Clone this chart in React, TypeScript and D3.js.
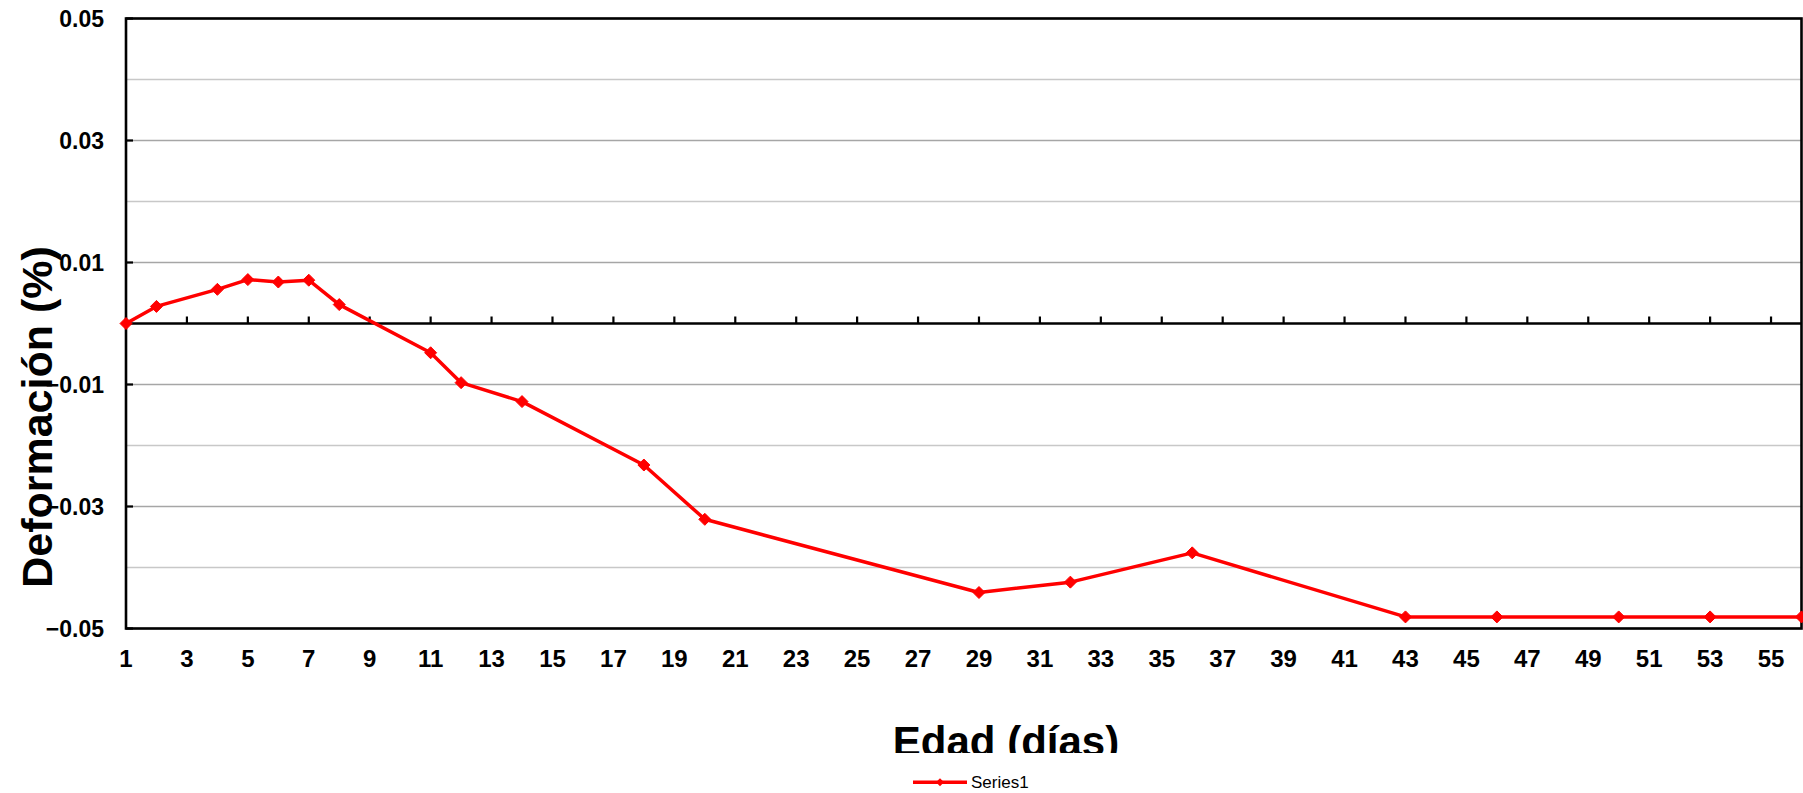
import React from "react";
import * as d3 from "d3";

const days = [1, 2, 4, 5, 6, 7, 8, 11, 12, 14, 18, 20, 29, 32, 36, 43, 46, 50, 53, 56];
const deformation = [
  0, 0.0028, 0.0056, 0.0072, 0.0068, 0.0071, 0.0031, -0.0048, -0.0097, -0.0128,
  -0.0232, -0.0321, -0.0441, -0.0424, -0.0376, -0.0481, -0.0481, -0.0481, -0.0481, -0.0481,
];
const xTickDays = d3.range(1, 56, 2);
const yMajorTicks = [-0.05, -0.03, -0.01, 0.01, 0.03, 0.05];
const yMinorTicks = [-0.04, -0.02, 0.02, 0.04];
const seriesName = "Series1";
const xTitle = "Edad (días)";
const yTitle = "Deformación (%)";

const W = 1803;
const H = 793;
const L = 126;
const R = 1801.5;
const T = 18.5;
const B = 628.5;
const FONT = "'Liberation Sans', Arial, Helvetica, sans-serif";
const RED = "#ff0000";

export default function App() {
  const x = d3.scaleLinear().domain([1, 56]).range([L, R]);
  const y = d3.scaleLinear().domain([-0.05, 0.05]).range([B, T]);
  const fmt = d3.format(".2f");
  const pts = days.map((d, i) => [x(d), y(deformation[i])] as [number, number]);
  const line = d3.line()(pts) || "";
  const diamond = (cx: number, cy: number, r: number) =>
    `M${cx},${cy - r}L${cx + r},${cy}L${cx},${cy + r}L${cx - r},${cy}Z`;

  return (
    <svg
      width={W}
      height={H}
      style={{ position: "absolute", left: 0, top: 0, display: "block", background: "#fff" }}
      fontFamily={FONT}
    >
      <defs>
        <clipPath id="titleClip">
          <rect x={0} y={0} width={W} height={753} />
        </clipPath>
      </defs>
      <rect x={0} y={0} width={W} height={H} fill="#fff" />
      {yMinorTicks.map((v) => (
        <line key={"mn" + v} x1={L} x2={R} y1={y(v)} y2={y(v)} stroke="#c8c8c8" strokeWidth={1.5} />
      ))}
      {yMajorTicks.map((v) => (
        <line key={"mj" + v} x1={L} x2={R} y1={y(v)} y2={y(v)} stroke="#a6a6a6" strokeWidth={1.5} />
      ))}
      <rect x={L} y={T} width={R - L} height={B - T} fill="none" stroke="#000" strokeWidth={2.6} />
      {yMajorTicks.map((v) => (
        <line key={"yt" + v} x1={L} x2={L + 7} y1={y(v)} y2={y(v)} stroke="#000" strokeWidth={2.2} />
      ))}
      <line x1={L} x2={R} y1={y(0)} y2={y(0)} stroke="#000" strokeWidth={2.6} />
      {xTickDays.map((d) => (
        <line key={"xt" + d} x1={x(d)} x2={x(d)} y1={y(0)} y2={y(0) - 7} stroke="#000" strokeWidth={2.2} />
      ))}
      {yMajorTicks.map((v) => (
        <text
          key={"yl" + v}
          x={104}
          y={y(v)}
          textAnchor="end"
          dominantBaseline="central"
          fontSize={23}
          fontWeight="bold"
          fill="#000"
        >
          {fmt(v)}
        </text>
      ))}
      {xTickDays.map((d) => (
        <text key={"xl" + d} x={x(d)} y={666.5} textAnchor="middle" fontSize={24} fontWeight="bold" fill="#000">
          {d}
        </text>
      ))}
      <path d={line} fill="none" stroke={RED} strokeWidth={3.5} strokeLinejoin="round" />
      {pts.map(([px, py], i) => (
        <path key={"m" + i} d={diamond(px, py, 6)} fill={RED} stroke={RED} strokeWidth={1} />
      ))}
      <text
        x={1006}
        y={756}
        textAnchor="middle"
        fontSize={42}
        fontWeight="bold"
        fill="#000"
        clipPath="url(#titleClip)"
      >
        {xTitle}
      </text>
      <text
        transform={`translate(52, 417) rotate(-90)`}
        textAnchor="middle"
        fontSize={43}
        fontWeight="bold"
        fill="#000"
      >
        {yTitle}
      </text>
      <line x1={913} x2={967} y1={782.3} y2={782.3} stroke={RED} strokeWidth={3.5} />
      <path d={diamond(940, 782.3, 4)} fill={RED} />
      <text x={971} y={782.3} dominantBaseline="central" fontSize={17} fill="#000">
        {seriesName}
      </text>
    </svg>
  );
}
